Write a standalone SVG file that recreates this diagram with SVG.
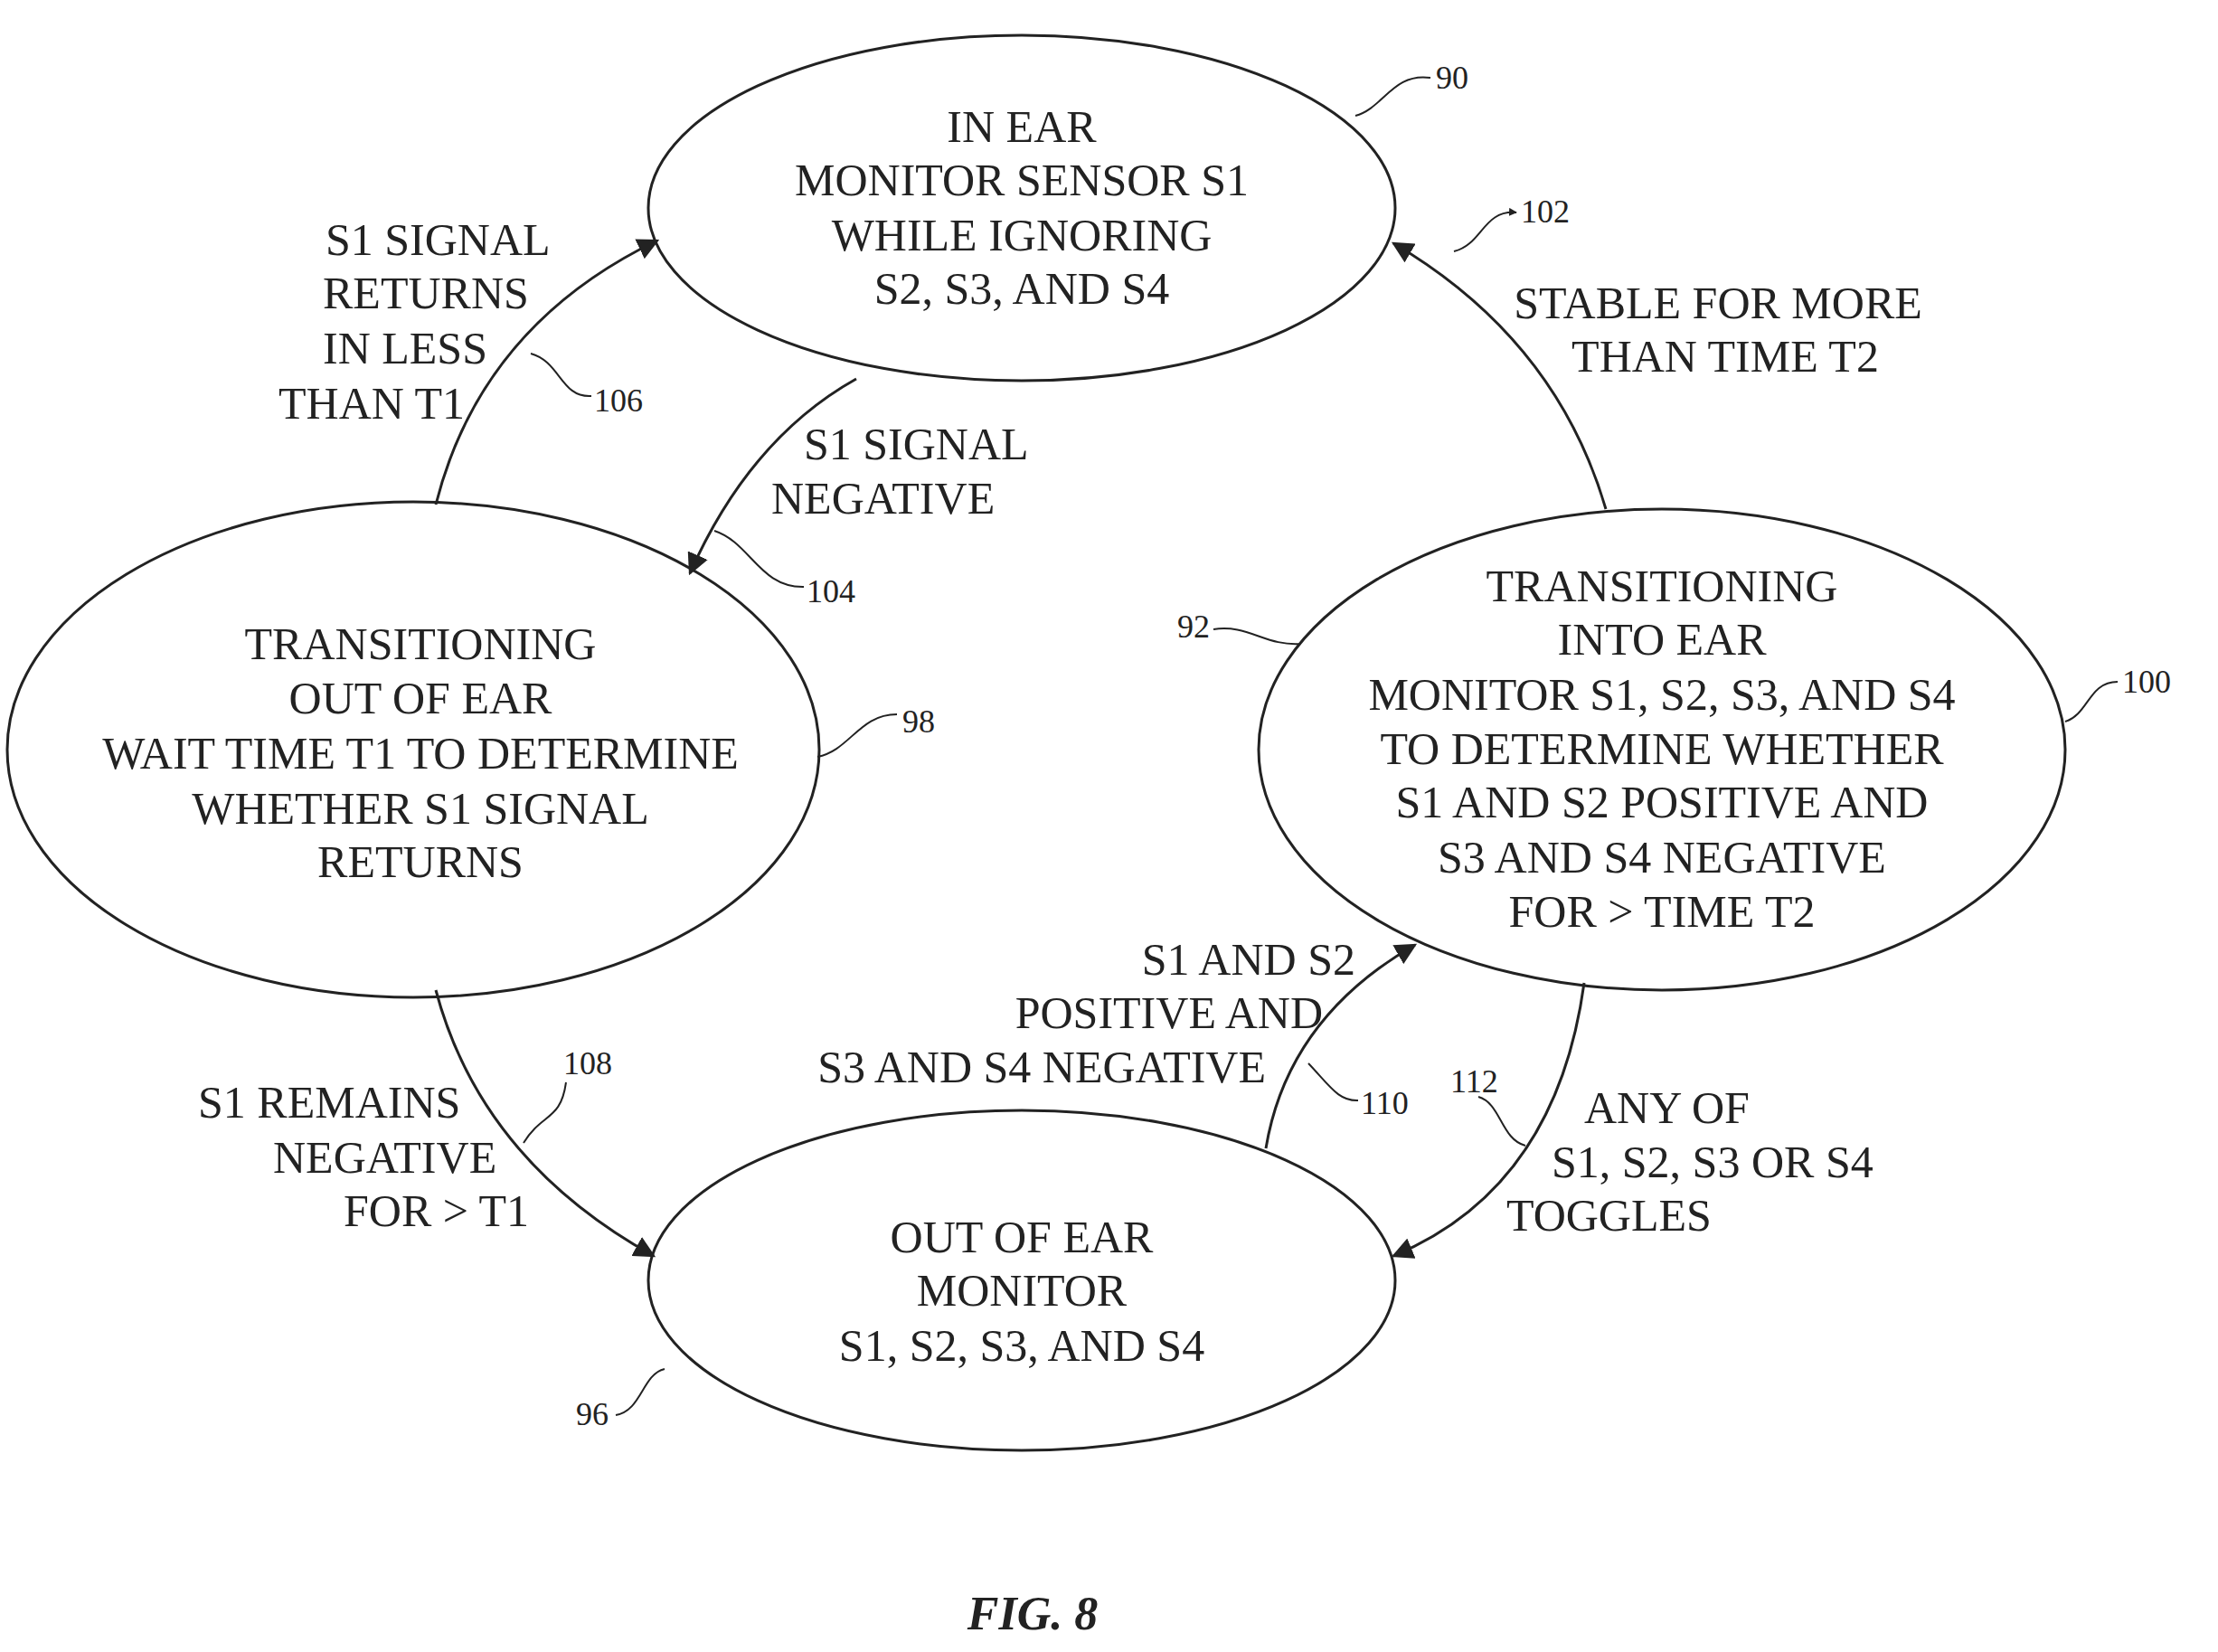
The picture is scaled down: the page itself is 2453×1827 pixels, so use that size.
<svg xmlns="http://www.w3.org/2000/svg" width="2453" height="1827" viewBox="0 0 2453 1827">
<style>
.n{fill:none;stroke:#222;stroke-width:3}
.t{font-family:"Liberation Serif",serif;font-size:50px;fill:#222;text-anchor:middle}
.l{font-family:"Liberation Serif",serif;font-size:50px;fill:#222}
.r{font-family:"Liberation Serif",serif;font-size:36px;fill:#222}
.c{fill:none;stroke:#222;stroke-width:3}
.ld{fill:none;stroke:#222;stroke-width:2}
</style>
<defs><marker id="a" viewBox="0 0 10 10" refX="9" refY="5" markerWidth="9" markerHeight="9" orient="auto" markerUnits="userSpaceOnUse"><path d="M0,0L10,5L0,10z" fill="#222"/></marker>
<marker id="b" viewBox="0 0 10 10" refX="9" refY="5" markerWidth="24" markerHeight="24" orient="auto" markerUnits="userSpaceOnUse"><path d="M0,0L10,5L0,10z" fill="#222"/></marker></defs>
<rect width="2453" height="1827" fill="#fff"/>
<g id="n90"><ellipse class="n" cx="1130" cy="230" rx="413" ry="191"/>
<text class="t" x="1130" y="157">IN EAR</text><text class="t" x="1130" y="216">MONITOR SENSOR S1</text><text class="t" x="1130" y="277">WHILE IGNORING</text><text class="t" x="1130" y="336">S2, S3, AND S4</text></g>
<g id="n98"><ellipse class="n" cx="457" cy="829" rx="449" ry="274"/>
<text class="t" x="465" y="729">TRANSITIONING</text><text class="t" x="465" y="789">OUT OF EAR</text><text class="t" x="465" y="850">WAIT TIME T1 TO DETERMINE</text><text class="t" x="465" y="911">WHETHER S1 SIGNAL</text><text class="t" x="465" y="970">RETURNS</text></g>
<g id="n100"><ellipse class="n" cx="1838" cy="829" rx="446" ry="266"/>
<text class="t" x="1838" y="665">TRANSITIONING</text><text class="t" x="1838" y="724">INTO EAR</text><text class="t" x="1838" y="785">MONITOR S1, S2, S3, AND S4</text><text class="t" x="1838" y="845">TO DETERMINE WHETHER</text><text class="t" x="1838" y="904">S1 AND S2 POSITIVE AND</text><text class="t" x="1838" y="965">S3 AND S4 NEGATIVE</text><text class="t" x="1838" y="1025">FOR &gt; TIME T2</text></g>
<g id="n96"><ellipse class="n" cx="1130" cy="1416" rx="413" ry="188"/>
<text class="t" x="1130" y="1385">OUT OF EAR</text><text class="t" x="1130" y="1444">MONITOR</text><text class="t" x="1130" y="1505">S1, S2, S3, AND S4</text></g>
<g id="connectors">
<path class="c" d="M482,558 Q532,360 727,266" marker-end="url(#b)"/>
<path class="c" d="M947,419 Q829,485 763,634" marker-end="url(#b)"/>
<path class="c" d="M1776,563 Q1721,375 1541,269" marker-end="url(#b)"/>
<path class="c" d="M482,1095 Q532,1283 723,1389" marker-end="url(#b)"/>
<path class="c" d="M1400,1270 Q1424,1126 1565,1045" marker-end="url(#b)"/>
<path class="c" d="M1752,1087 Q1721,1314 1541,1389" marker-end="url(#b)"/>
</g>
<g id="labels">
<text class="l" x="360" y="282">S1 SIGNAL</text><text class="l" x="357" y="341">RETURNS</text><text class="l" x="357" y="402">IN LESS</text><text class="l" x="308" y="463">THAN T1</text>
<text class="t" x="1900" y="352">STABLE FOR MORE</text><text class="t" x="1908" y="411">THAN TIME T2</text>
<text class="l" x="889" y="508">S1 SIGNAL</text><text class="l" x="853" y="568">NEGATIVE</text>
<text class="l" x="1499" y="1078" text-anchor="end">S1 AND S2</text><text class="l" x="1463" y="1137" text-anchor="end">POSITIVE AND</text><text class="l" x="1400" y="1197" text-anchor="end">S3 AND S4 NEGATIVE</text>
<text class="l" x="219" y="1236">S1 REMAINS</text><text class="l" x="302" y="1297">NEGATIVE</text><text class="l" x="380" y="1356">FOR &gt; T1</text>
<text class="l" x="1752" y="1242">ANY OF</text><text class="l" x="1716" y="1302">S1, S2, S3 OR S4</text><text class="l" x="1666" y="1361">TOGGLES</text>
<text x="1142" y="1802" text-anchor="middle" style="font-family:'Liberation Serif',serif;font-size:52px;font-style:italic;font-weight:bold;fill:#222">FIG. 8</text>
</g>
<g id="refs">
<text class="r" x="1588" y="98">90</text><path class="ld" d="M1499,128 C1530,120 1540,80 1582,86"/>
<text class="r" x="1682" y="246">102</text><path class="ld" d="M1608,278 C1640,270 1640,232 1677,235" marker-end="url(#a)"/>
<text class="r" x="657" y="455">106</text><path class="ld" d="M587,391 C620,400 620,440 654,438"/>
<text class="r" x="892" y="666">104</text><path class="ld" d="M790,587 C830,600 840,650 889,649"/>
<text class="r" x="998" y="810">98</text><path class="ld" d="M904,837 C940,830 950,790 992,790"/>
<text class="r" x="1338" y="705" text-anchor="end">92</text><path class="ld" d="M1342,696 C1380,690 1400,715 1439,712"/>
<text class="r" x="2347" y="766">100</text><path class="ld" d="M2284,798 C2310,790 2310,754 2342,754"/>
<text class="r" x="623" y="1188">108</text><path class="ld" d="M579,1264 C600,1230 620,1240 626,1197"/>
<text class="r" x="1505" y="1232">110</text><path class="ld" d="M1447,1176 C1470,1200 1480,1218 1502,1217"/>
<text class="r" x="1604" y="1208">112</text><path class="ld" d="M1635,1213 C1660,1220 1660,1260 1687,1267"/>
<text class="r" x="673" y="1576" text-anchor="end">96</text><path class="ld" d="M681,1565 C710,1560 710,1520 735,1514"/>
</g>
</svg>
